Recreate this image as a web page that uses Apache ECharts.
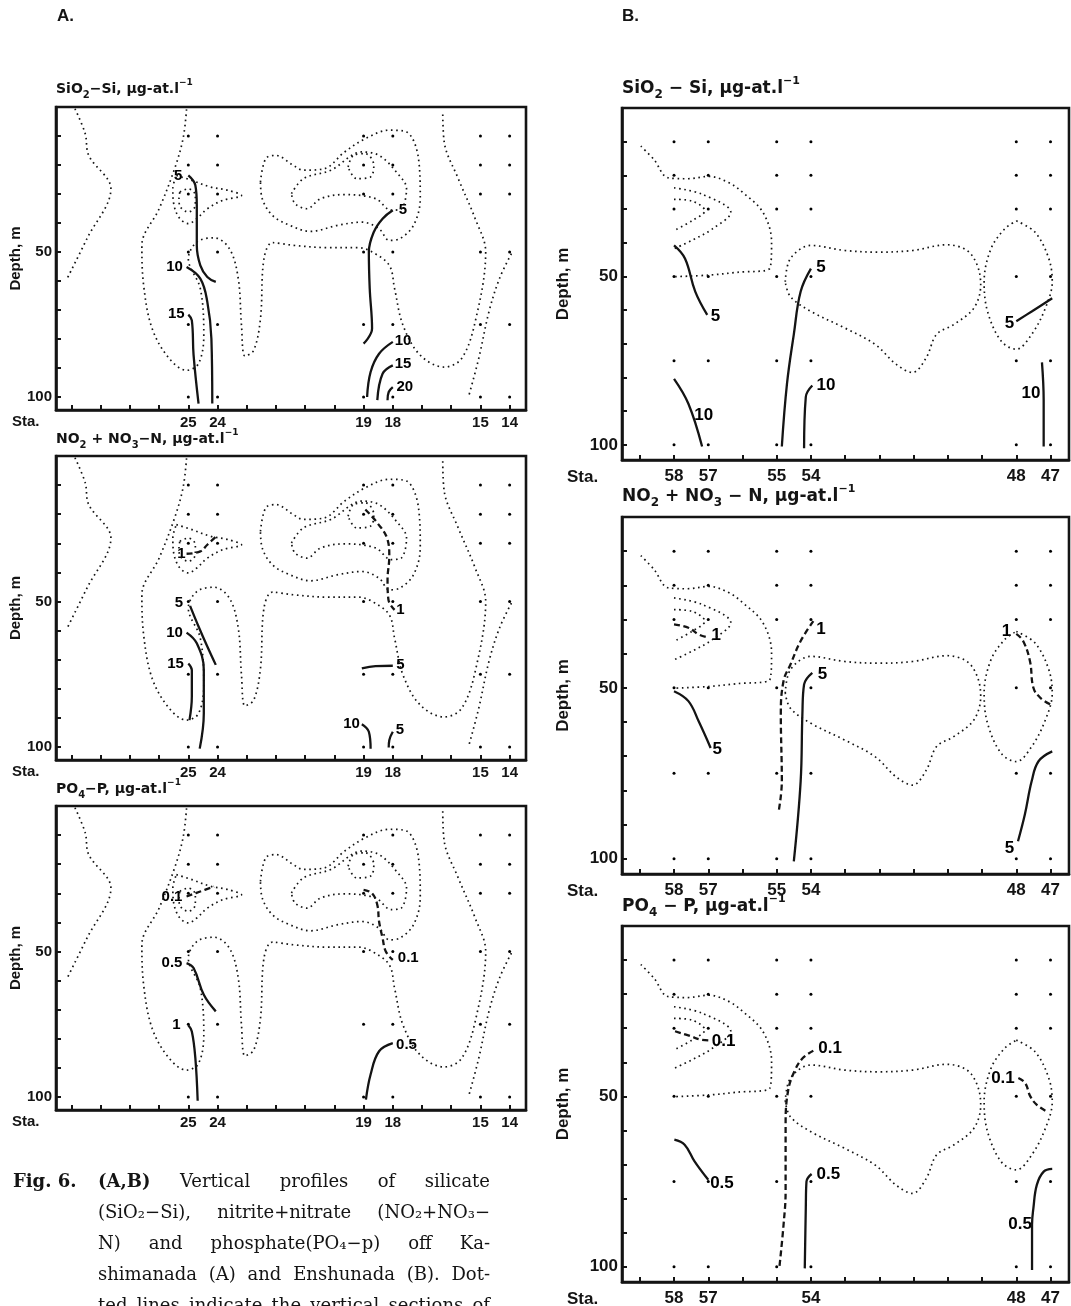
<!DOCTYPE html>
<html>
<head>
<meta charset="utf-8">
<title>Fig. 6 vertical profiles</title>
<script src="https://cdn.jsdelivr.net/npm/echarts@6/dist/echarts.min.js"></script>
<style>
  html, body { margin: 0; padding: 0; background: #fff; }
  #chart { width: 1071px; height: 1306px; }
</style>
</head>
<body>
<div id="chart"></div>
<script>
// ---------- axes / stations ----------
const tickPosA = [0, 10, 20, 30, 40, 50, 60, 70, 80, 90, 100, 110, 120, 130, 140, 150];
const stationPosA = [40, 50, 100, 110, 140, 150];
const stationNamesA = ['25', '24', '19', '18', '15', '14'];

const tickPosB = [0, 10, 20, 30, 40, 50, 60, 70, 80, 90, 100, 110, 120];
const stationPosB = [10, 20, 40, 50, 110, 120];
const stationNamesB = ['58', '57', '55', '54', '48', '47'];
const stationPosB3 = [10, 20, 50, 110, 120];
const stationNamesB3 = ['58', '57', '54', '48', '47'];

const depthTicks = [10, 20, 30, 40, 50, 60, 70, 80, 90, 100];
const depthLabels = [50, 100];
const sampleDepths = [10, 20, 30, 50, 75, 100];

// ---------- dotted sections, Kashimanada (A) ----------
const secA1 = [[1.2,0.6],[4.7,9.2],[5.9,16.7],[13.5,28.2],[5.3,45.4],[-1.8,59.8]];
const secA2 = [[39.4,0.8],[38.2,10.9],[35.3,21.3],[30,35.1],[24.1,47.7],[24.7,61.5],[27.6,76.4],[33.5,86.8],[39.4,90.8],[43.5,88.5],[45.3,78.7],[44.1,62.6],[40,52.3],[42.9,46.6],[48.8,45.1],[54.1,48.9],[57.1,59.2],[58.2,75.3],[59.4,85.9],[62.4,83.9],[64.7,73],[65.9,52.3],[68.8,46.8],[75.9,47.7],[87.6,48.5],[98.2,48.5],[102.9,50],[108.8,54.6],[110.6,62.6],[113.5,75.3],[119.4,85.6],[127.6,89.7],[133.5,86.8],[138.2,74.1],[141.8,50],[138.2,38.5],[132.4,24.7],[127.6,12.1],[127.1,1.7]];
const secA3 = [[35.9,23.6],[41.2,25.3],[47.6,27.6],[53.5,28.7],[58.2,30.5],[51.8,32.2],[46.5,35.1],[42.9,38.5],[40,40.2],[37.1,38.5],[35.1,33.9],[34.7,28.2],[35.9,23.6]];
const secA4 = [[37.1,29.3],[40,28.2],[42.4,30.5],[42.4,33.9],[40,36.2],[37.3,34.5],[36.8,31.6],[37.1,29.3]];
const secA5 = [[64.7,25.9],[66.5,17.8],[70,16.7],[75.9,20.1],[79.4,21.8],[86.5,21.3],[93.5,15.5],[100.6,10.9],[108.8,8],[114.7,8.6],[118.8,17.8],[119.4,31.6],[117.1,40.8],[112.4,45.4],[108.8,46],[105.3,42],[99.4,39.7],[91.2,40.8],[81.8,42.9],[74.7,40.8],[68.8,37.4],[65.3,31.6],[64.7,25.9]];
const secA6 = [[75.3,29.9],[79.4,24.7],[88.8,21.8],[99.4,15.5],[105.3,16.7],[111.2,22.4],[114.7,28.2],[112.9,35.1],[109.4,35.6],[104.1,31.6],[93.5,30.2],[85.3,31.6],[80.6,35.1],[76.5,33.3],[75.3,29.9]];
const secA7 = [[94.7,20.7],[96.5,16.7],[100.6,16.1],[103.5,20.1],[102.4,24.1],[97.6,24.7],[94.7,20.7]];
const secA8 = [[150.6,50.6],[146.5,59.2],[142.9,70.7],[139.4,86.8],[135.9,100]];

// ---------- dotted sections, Enshunada (B) ----------
const secB1 = [[0.3,11.3],[4.2,15.4],[8.2,20.7],[14,21],[20.2,20.3],[26.1,22.2],[30.1,25.1],[36,31],[38.5,39.8],[38,47.6],[28.3,48.8],[20.2,49.6],[10,50.1]];
const secB2 = [[10,23.7],[18.2,25.6],[26.6,31],[21.2,35.9],[15.2,39.3],[10,41.8]];
const secB3 = [[10,27.1],[15.2,27.6],[19,30.5],[15.2,33.5],[10,36.4]];
const secB4 = [[42.5,51.6],[44,44.7],[50,40.8],[59.9,42.3],[69.8,42.8],[79.7,42.3],[89.7,40.6],[95.6,42.3],[98.6,46.7],[99.6,52.5],[97.6,59.4],[91.7,64.3],[86.7,67.2],[83.7,74.1],[79.7,78.5],[74.8,76],[68.8,70.2],[59.9,65.3],[50,60.4],[44,56],[42.5,51.6]];
const secB5 = [[110,33.5],[115.5,36.9],[119.5,44.7],[120.5,51.6],[118.5,59.4],[114.5,67.2],[110,71.6],[105.6,69.2],[101.6,60.4],[100.6,51.6],[102.6,41.8],[106.6,35.9],[110,33.5]];

// ---------- isolines, A ----------
const siA5a = [[40,23.6],[42.4,27],[42.9,33.9],[42.9,47.7],[44.1,54.6],[46.5,58.6],[49.4,60.3]];
const siA10a = [[39.4,55.2],[44.1,59.2],[46.5,67.2],[47.9,79.9],[48.2,102.3]];
const siA15a = [[40,71.6],[41.2,73.6],[41.8,85.6],[43.5,102.3]];
const siA5b = [[110,35.6],[106.5,38.5],[103.5,43.1],[101.8,50],[102.1,62.6],[102.9,76.4],[100,81.6]];
const siA10b = [[110,81],[105.3,85.1],[102.4,91.4],[101.2,100]];
const siA15b = [[110,89.1],[106.5,92],[104.7,101.1]];
const siA20 = [[110,96.6],[108.6,98.3],[108.2,101.1]];
const siALabels = [[36.5,23.6,'5'],[35.3,55.2,'10'],[35.9,71.3,'15'],[113.5,35.6,'5'],[113.5,80.5,'10'],[113.5,88.5,'15'],[114.1,96.6,'20']];

const noA1a = [[39.4,33.6],[44.1,32.8],[46.5,30.5],[49.4,27.8]];
const noA1b = [[100.6,18.4],[104.7,23],[108.2,28.7],[108.8,34.5],[108.2,42.5],[108.5,49.4],[110.6,52.9]];
const noA5a = [[40.6,51.5],[43.5,58.6],[46.5,65.5],[49.4,71.8]];
const noA10a = [[39.4,60.7],[42.9,64.4],[45.3,73.6],[45.3,88.5],[43.9,100.6]];
const noA15a = [[40,71.3],[41.2,73.6],[41.2,82.8],[40.4,90.8]];
const noA5b = [[99.4,73],[104.1,72.2],[110,72.1]];
const noA10b = [[99.4,92.2],[101.8,94.8],[102.4,100.6]];
const noA5c = [[110,94.8],[108.8,97.7],[108.6,100.2]];
const noALabels = [[37.6,33.6,'1'],[112.6,52.9,'1'],[36.8,50.6,'5'],[35.3,60.9,'10'],[35.6,71.3,'15'],[112.6,71.8,'5'],[95.9,92,'10'],[112.4,94.3,'5']];

const poA01a = [[39.4,31.1],[44.1,29.4],[48.8,27.7]];
const poA01b = [[100,28.8],[102.9,30],[104.7,34],[105.3,39.7],[106.5,45.4],[107.6,50],[110,52.9]];
const poA05a = [[39.4,54],[41.8,55.7],[45.3,64.9],[49.4,70.6]];
const poA1a = [[40,75.4],[41.2,77.5],[42.4,86.6],[43.2,101.3]];
const poA05b = [[110,81.5],[105.3,84.3],[102.4,92.3],[100.8,100.9]];
const poALabels = [[34.4,31.1,'0.1'],[115.3,52.3,'0.1'],[34.4,54,'0.5'],[35.9,75.4,'1'],[114.7,82,'0.5']];

// ---------- isolines, B ----------
const siB5a = [[10,40.8],[13.2,44.7],[16.2,54.5],[19.7,61.4]];
const siB5b = [[50,47.7],[47,54.5],[45,67.2],[43,81.9],[41.5,100.5]];
const siB10a = [[10,80.4],[14.2,87.8],[18.2,100.5]];
const siB10b = [[50.4,82.4],[48.5,85.8],[48,101]];
const siB5c = [[110,63.3],[114.5,60.4],[120.5,56.5]];
const siB10c = [[117.5,75.5],[118,86.8],[118,100.5]];
const siBLabels = [[22.1,61.8,'5'],[52.9,47.2,'5'],[18.7,91.2,'10'],[54.4,82.4,'10'],[108,63.8,'5'],[114.3,84.8,'10']];

const noB1a = [[10,31.4],[14.2,32.4],[17.2,34.4],[19.7,35.2]];
const noB1b = [[50.7,30.5],[47,36.3],[44,43.2],[42,48],[41.2,57.8],[41.5,77.3],[40.5,86.6]];
const noB5b = [[50.4,45.6],[48,49],[47.5,57.8],[47,77.3],[45,100.8]];
const noB1c = [[110,34.2],[112,36.3],[114,42.2],[115,50],[117,52.9],[120,54.9]];
const noB5a = [[10,51],[14.2,53.9],[17.2,59.8],[20.7,67.6]];
const noB5c = [[120.5,68.6],[116.5,71.5],[114.5,77.3],[112.5,87.1],[110.5,94.9]];
const noBLabels = [[22.3,34.6,'1'],[52.9,32.9,'1'],[53.4,46.1,'5'],[107.1,33.4,'1'],[22.6,68.1,'5'],[108,96.9,'5']];

const poB01a = [[10.3,30.9],[15,32.4],[17.5,33.3],[20.5,33.6]];
const poB01b = [[50.7,36.6],[47.7,38.7],[45.2,42.6],[43.3,48.5],[42.6,58.3],[42.6,77.9],[42,87.7],[40.8,100]];
const poB01c = [[110.6,44.6],[112.6,46.1],[114.1,50],[116,52.5],[118.8,54.4]];
const poB05a = [[10.1,62.7],[13.1,64.2],[16,69.1],[20,74.5]];
const poB05b = [[50.2,72.8],[48.7,75],[48.5,82.8],[48.2,100.5]];
const poB05c = [[120.5,71.3],[118,72.1],[116,76],[115,82.8],[114.6,87.7],[114.6,101]];
const poBLabels = [[24.5,33.8,'0.1'],[55.6,35.8,'0.1'],[106.1,44.6,'0.1'],[24,75.5,'0.5'],[55.1,72.8,'0.5'],[111.1,87.7,'0.5']];

// ---------- caption ----------
const captionLines = [
  ['(A,B)', 'Vertical', 'profiles', 'of', 'silicate'],
  ['(SiO\u2082\u2212Si),', 'nitrite+nitrate', '(NO\u2082+NO\u2083\u2212'],
  ['N)', 'and', 'phosphate(PO\u2084\u2212p)', 'off', 'Ka-'],
  ['shimanada', '(A)', 'and', 'Enshunada', '(B).', 'Dot-'],
  ['ted', 'lines', 'indicate', 'the', 'vertical', 'sections', 'of']
];

// ---------- chart ----------
const INK = '#141414';
const SANS = 'Liberation Sans';
const WIDE = 'DejaVu Sans';
const SERIF = 'DejaVu Serif';

const secA = [secA1, secA2, secA3, secA4, secA5, secA6, secA7, secA8];
const secB = [secB1, secB2, secB3, secB4, secB5];

const panels = [
  {left: 56, top: 107, width: 470, height: 303, col: 'A', sections: secA,
   solid: [siA5a, siA10a, siA15a, siA5b, siA10b, siA15b, siA20], dashed: [], labels: siALabels},
  {left: 56, top: 456, width: 470, height: 304, col: 'A', sections: secA,
   solid: [noA5a, noA10a, noA15a, noA5b, noA10b, noA5c], dashed: [noA1a, noA1b], labels: noALabels},
  {left: 56, top: 806, width: 470, height: 304, col: 'A', sections: secA,
   solid: [poA05a, poA1a, poA05b], dashed: [poA01a, poA01b], labels: poALabels},
  {left: 622, top: 108, width: 447, height: 352, col: 'B', sections: secB,
   solid: [siB5a, siB5b, siB10a, siB10b, siB5c, siB10c], dashed: [], labels: siBLabels},
  {left: 622, top: 517, width: 447, height: 357, col: 'B', sections: secB,
   solid: [noB5b, noB5a, noB5c], dashed: [noB1a, noB1b, noB1c], labels: noBLabels},
  {left: 622, top: 926, width: 447, height: 356, col: 'B', sections: secB,
   solid: [poB05a, poB05b, poB05c], dashed: [poB01a, poB01b, poB01c], labels: poBLabels,
   names: stationNamesB3, pos: stationPosB3}
];

const chart = echarts.init(document.getElementById('chart'));

const option = {
  animation: false,
  backgroundColor: '#fff',
  title: [],
  grid: [],
  xAxis: [],
  yAxis: [],
  series: [],
  graphic: []
};

function richFor(size) {
  return {
    b: {fontFamily: WIDE, fontWeight: 'bold', fontSize: size, color: INK, lineHeight: size + 8},
    bs: {fontFamily: WIDE, fontWeight: 'bold', fontSize: Math.round(size * 0.72), color: INK, lineHeight: Math.round(size * 0.7), verticalAlign: 'bottom'},
    n: {fontFamily: WIDE, fontSize: size, color: INK, lineHeight: size + 8},
    sp: {fontFamily: WIDE, fontSize: Math.round(size * 0.65), color: INK, lineHeight: Math.round(size * 0.65), verticalAlign: 'top'}
  };
}

const panelTitles = [
  {left: 56, top: 78, size: 14, text: '{b|SiO}{bs|2}{b|\u2212Si,}{n| \u00b5g-at.l}{sp|\u22121}'},
  {left: 56, top: 428, size: 14, text: '{b|NO}{bs|2}{b| + NO}{bs|3}{b|\u2212N,}{n| \u00b5g-at.l}{sp|\u22121}'},
  {left: 56, top: 778, size: 14, text: '{b|PO}{bs|4}{b|\u2212P,}{n| \u00b5g-at.l}{sp|\u22121}'},
  {left: 622, top: 76, size: 17, text: '{b|SiO}{bs|2}{b| \u2212 Si,}{n| \u00b5g-at.l}{sp|\u22121}'},
  {left: 622, top: 484, size: 17, text: '{b|NO}{bs|2}{b| + NO}{bs|3}{b| \u2212 N,}{n| \u00b5g-at.l}{sp|\u22121}'},
  {left: 622, top: 894, size: 17, text: '{b|PO}{bs|4}{b| \u2212 P,}{n| \u00b5g-at.l}{sp|\u22121}'}
];
panelTitles.forEach(t => {
  option.title.push({left: t.left, top: t.top, padding: 0, text: t.text,
    textStyle: {rich: richFor(t.size)}});
});
option.title.push({left: 57, top: 8, padding: 0, text: 'A.',
  textStyle: {fontFamily: SANS, fontWeight: 'bold', fontSize: 17, color: INK}});
option.title.push({left: 622, top: 8, padding: 0, text: 'B.',
  textStyle: {fontFamily: SANS, fontWeight: 'bold', fontSize: 17, color: INK}});

panels.forEach((p, i) => {
  const isA = p.col === 'A';
  const ticks = isA ? tickPosA : tickPosB;
  const pos = p.pos || (isA ? stationPosA : stationPosB);
  const names = p.names || (isA ? stationNamesA : stationNamesB);
  const fs = isA ? 15 : 17;

  option.grid.push({
    left: p.left, top: p.top, width: p.width, height: p.height,
    show: true, borderColor: INK, borderWidth: 2.6,
    containLabel: false, outerBoundsMode: 'none'
  });

  option.xAxis.push({
    gridIndex: i, type: 'value',
    min: isA ? -5.3 : -5.2, max: isA ? 155.6 : 125.4,
    axisLine: {show: true, onZero: false, lineStyle: {color: INK, width: 2.6}},
    axisTick: {show: true, inside: true, length: 5, customValues: ticks,
      lineStyle: {color: INK, width: 2}},
    axisLabel: {show: true, customValues: pos,
      formatter: v => names[pos.indexOf(v)] || '',
      color: INK, fontFamily: SANS, fontWeight: 'bold', fontSize: fs, margin: isA ? 5 : 8},
    splitLine: {show: false}
  });

  option.yAxis.push({
    gridIndex: i, type: 'value', inverse: true,
    min: 0, max: 104.5,
    name: 'Depth, m', nameLocation: 'middle', nameRotate: 90,
    nameGap: isA ? 31 : 50,
    nameTextStyle: {color: INK, fontFamily: SANS, fontWeight: 'bold', fontSize: fs},
    axisLine: {show: true, onZero: false, lineStyle: {color: INK, width: 2.6}},
    axisTick: {show: true, inside: true, length: 5, customValues: depthTicks,
      lineStyle: {color: INK, width: 2}},
    axisLabel: {show: true, customValues: depthLabels, color: INK, fontFamily: SANS,
      fontWeight: 'bold', fontSize: fs, margin: 4},
    splitLine: {show: false}
  });

  // dotted vertical sections
  p.sections.forEach(s => {
    option.series.push({
      type: 'line', xAxisIndex: i, yAxisIndex: i, data: s, smooth: 0.35,
      showSymbol: false, symbol: 'none', silent: true,
      lineStyle: {color: INK, width: 1.7, type: [1.6, 3.6]}
    });
  });
  p.solid.forEach(s => {
    option.series.push({
      type: 'line', xAxisIndex: i, yAxisIndex: i, data: s, smooth: 0.4,
      showSymbol: false, symbol: 'none', silent: true,
      lineStyle: {color: INK, width: 2.3}
    });
  });
  p.dashed.forEach(s => {
    option.series.push({
      type: 'line', xAxisIndex: i, yAxisIndex: i, data: s, smooth: 0.4,
      showSymbol: false, symbol: 'none', silent: true,
      lineStyle: {color: INK, width: 2.3, type: [6, 3.5]}
    });
  });

  // sampling points
  const stPos = isA ? stationPosA : stationPosB;
  const dots = [];
  stPos.forEach(x => sampleDepths.forEach(d => dots.push([x, d])));
  option.series.push({
    type: 'scatter', xAxisIndex: i, yAxisIndex: i, data: dots,
    symbolSize: 3, silent: true, itemStyle: {color: '#000', opacity: 1}
  });

  // isoline labels
  option.series.push({
    type: 'scatter', xAxisIndex: i, yAxisIndex: i, silent: true,
    symbolSize: 0, itemStyle: {opacity: 1},
    data: p.labels.map(l => ({name: l[2], value: [l[0], l[1]]})),
    label: {show: true, position: 'inside', formatter: '{b}', color: '#000', opacity: 1,
      textBorderWidth: 0, fontFamily: SANS, fontWeight: 'bold', fontSize: fs}
  });

  // "Sta." row label
  option.graphic.push({
    type: 'text',
    x: isA ? 12 : 567,
    y: p.top + p.height + (isA ? 12 : 17),
    style: {text: 'Sta.', fill: INK, font: 'bold ' + fs + 'px "' + SANS + '"',
      align: 'left', verticalAlign: 'middle'}
  });
});

// caption, justified like the printed page
const ctx = document.createElement('canvas').getContext('2d');
const capFont = '18px "' + SERIF + '"';
const capBold = 'bold 18px "' + SERIF + '"';
option.graphic.push({
  type: 'text', x: 13, y: 1182,
  style: {text: 'Fig. 6.', fill: INK, font: capBold, align: 'left', verticalAlign: 'middle'}
});
captionLines.forEach((words, li) => {
  const y = 1182 + li * 31;
  const x0 = 98, x1 = 490;
  const fonts = words.map(w => (w === '(A,B)' ? capBold : capFont));
  const widths = words.map((w, k) => { ctx.font = fonts[k]; return ctx.measureText(w).width; });
  const total = widths.reduce((a, b) => a + b, 0);
  const gap = words.length > 1 ? (x1 - x0 - total) / (words.length - 1) : 0;
  let x = x0;
  words.forEach((w, k) => {
    option.graphic.push({
      type: 'text', x: x, y: y,
      style: {text: w, fill: INK, font: fonts[k], align: 'left', verticalAlign: 'middle'}
    });
    x += widths[k] + gap;
  });
});

chart.setOption(option);
</script>
</body>
</html>
